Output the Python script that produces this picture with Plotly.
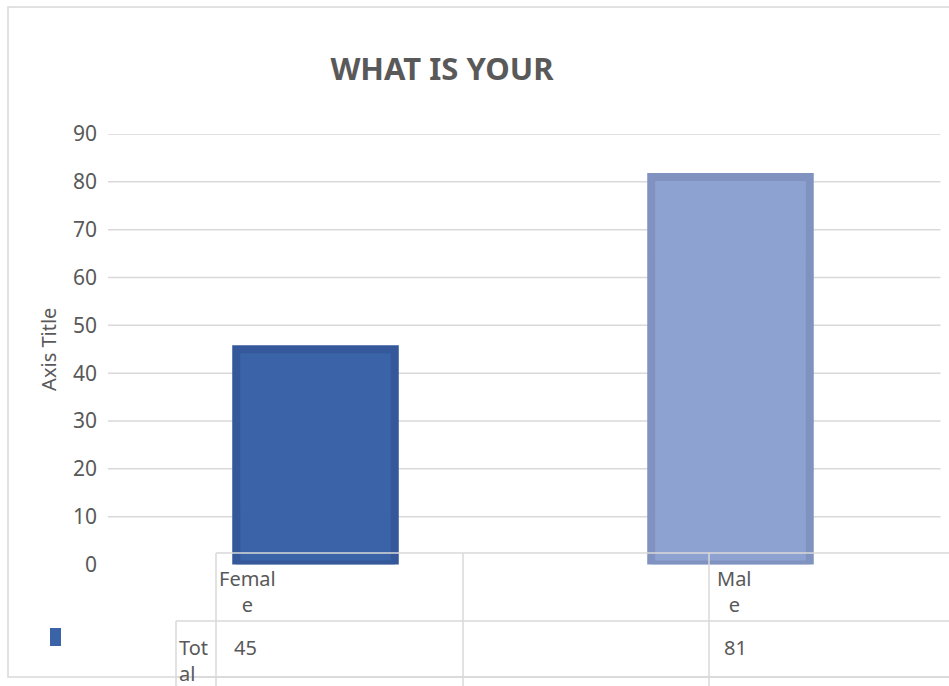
import plotly.graph_objects as go

# ---- data ----
categories = ["Female", "Male"]
totals = [45, 81]
table_headers = ["Femal<br>e", "Mal<br>e"]
row_label = "Tot<br>al"
y_ticks = [0, 10, 20, 30, 40, 50, 60, 70, 80, 90]

# ---- styling ----
W, H = 949, 686
TEXT = "#595959"
GRID = "#d9d9d9"
FONT = "Noto Sans"
fills = ["#3a63a8", "#8ea2d2"]
edges = ["#34589a", "#8093c0"]


def px(x):
    return x / W


def py(y):
    return 1 - y / H


fig = go.Figure()
fig.add_trace(go.Bar(
    x=categories,
    y=totals,
    width=0.382,
    marker=dict(color=fills, line=dict(color=edges, width=8)),
    showlegend=False,
    hoverinfo="x+y",
))

shapes = []
# horizontal gridlines (no line at 0)
for t in y_ticks[1:]:
    shapes.append(dict(type="line", xref="x domain", yref="y", x0=0, x1=1.003,
                       y0=t, y1=t, line=dict(color=GRID, width=1.5), layer="below"))

# chart frame
shapes.append(dict(type="rect", xref="paper", yref="paper",
                   x0=px(8), x1=px(W + 20), y0=py(677), y1=py(7),
                   line=dict(color=GRID, width=1.5), fillcolor="rgba(0,0,0,0)", layer="below"))

# data table grid
def hline(y, x0, x1=W + 20):
    shapes.append(dict(type="line", xref="paper", yref="paper", x0=px(x0), x1=px(x1),
                       y0=py(y), y1=py(y), line=dict(color=GRID, width=1.5), layer="above"))


def vline(x, y0, y1=H + 10):
    shapes.append(dict(type="line", xref="paper", yref="paper", x0=px(x), x1=px(x),
                       y0=py(y0), y1=py(y1), line=dict(color=GRID, width=1.5), layer="above"))


hline(553, 216)
hline(621, 176)
hline(677, 176)
vline(216, 553)
vline(176, 621)
vline(463, 553)
vline(709, 553)

# legend key
shapes.append(dict(type="rect", xref="paper", yref="paper",
                   x0=px(50), x1=px(61), y0=py(646), y1=py(628),
                   line=dict(width=0), fillcolor=fills[0]))

annotations = []
# column headers
for lbl, xl in zip(table_headers, [217, 715]):
    annotations.append(dict(text=lbl, xref="paper", yref="paper", x=px(xl), y=py(563),
                            xanchor="left", yanchor="top", align="center", showarrow=False,
                            font=dict(family=FONT, size=20, color=TEXT)))
# row label
annotations.append(dict(text=row_label, xref="paper", yref="paper", x=px(177), y=py(632),
                        xanchor="left", yanchor="top", align="left", showarrow=False,
                        font=dict(family=FONT, size=20, color=TEXT)))
# values
for v, xc in zip(totals, [245, 735]):
    annotations.append(dict(text=str(v), xref="paper", yref="paper", x=px(xc), y=py(647),
                            xanchor="center", yanchor="middle", showarrow=False,
                            font=dict(family=FONT, size=20, color=TEXT)))

fig.update_layout(
    width=W, height=H,
    margin=dict(l=0, r=0, t=0, b=0, autoexpand=False),
    paper_bgcolor="white",
    plot_bgcolor="white",
    title=dict(text="<b>WHAT IS YOUR</b>", x=px(442), y=py(69), xanchor="center", yanchor="middle",
               automargin=False,
               font=dict(family=FONT, size=31, color=TEXT)),
    xaxis=dict(domain=[px(108), px(938)], showticklabels=False, showgrid=False,
               zeroline=False, showline=False, ticks="", automargin=False),
    yaxis=dict(domain=[py(564.5), py(134)], range=[0, 90], tickvals=y_ticks,
               showgrid=False, zeroline=False, showline=False, ticks="",
               automargin=False,
               ticklabelstandoff=10,
               tickfont=dict(family=FONT, size=21, color=TEXT),
               title=dict(text="Axis Title", standoff=10,
                          font=dict(family=FONT, size=20, color=TEXT))),
    shapes=shapes,
    annotations=annotations,
    bargap=0.6,
)

fig.write_html("out.html")
